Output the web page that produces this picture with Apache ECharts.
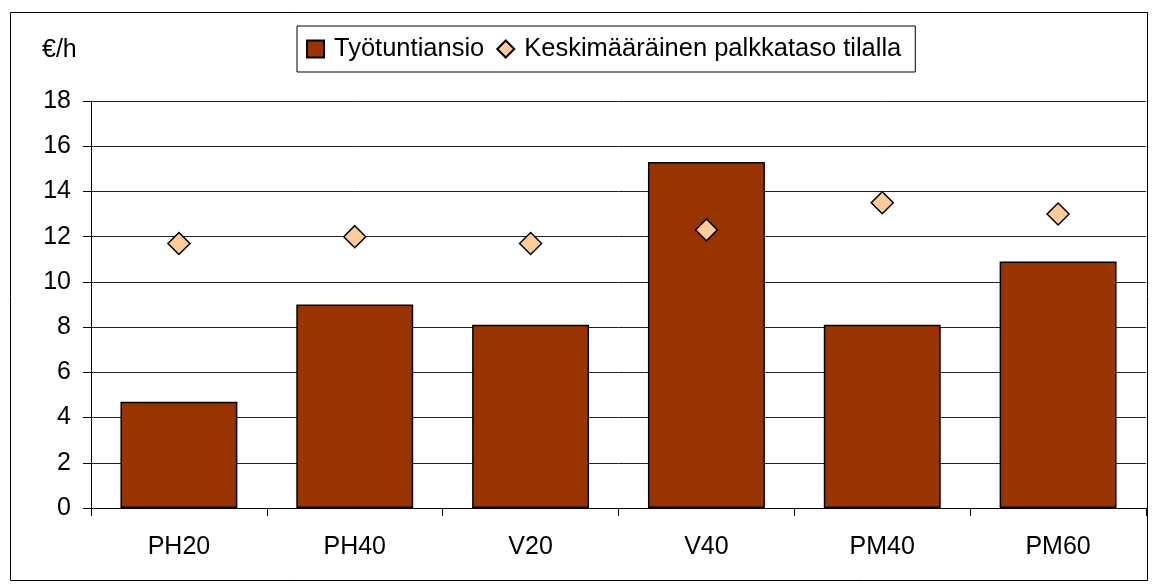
<!DOCTYPE html>
<html>
<head>
<meta charset="utf-8">
<script src="https://cdn.jsdelivr.net/npm/echarts@6/dist/echarts.min.js"></script>
<style>
  html, body { margin: 0; padding: 0; background: #fff; }
  #chart { width: 1152px; height: 587px; }
</style>
</head>
<body>
<div id="chart"></div>
<script>
var categories = ['PH20', 'PH40', 'V20', 'V40', 'PM40', 'PM60'];
var tyotuntiansio = [4.7, 9.0, 8.1, 15.3, 8.1, 10.9];
var palkkataso = [11.7, 12.0, 11.7, 12.3, 13.5, 13.0];
var seriesNames = ['Työtuntiansio', 'Keskimääräinen palkkataso tilalla'];

(function(){
  var c = echarts.init(document.getElementById('chart'));
  var font = '"Liberation Sans", Arial, sans-serif';
  var ink = '#000';

  c.setOption({
    animation: false,
    backgroundColor: '#fff',
    textStyle: { fontFamily: font },
    grid: { left: 91, right: 6, top: 101, bottom: 79 },
    legend: {
      left: 297, top: 26,
      padding: [10, 14, 10, 9],
      borderColor: ink, borderWidth: 1,
      itemGap: 12, itemWidth: 17, itemHeight: 17,
      textStyle: { fontFamily: font, fontSize: 25.5, color: ink, padding: [0, 0, 0, 5] },
      data: [
        { name: seriesNames[0], icon: 'rect' },
        { name: seriesNames[1], icon: 'diamond' }
      ]
    },
    xAxis: {
      type: 'category', data: categories,
      axisLine: { lineStyle: { color: ink, width: 1 } },
      axisTick: { show: true, length: 8, lineStyle: { color: ink } },
      axisLabel: { color: ink, fontSize: 25, margin: 27 }
    },
    yAxis: {
      type: 'value', min: 0, max: 18, interval: 2,
      axisLine: { show: true, lineStyle: { color: ink, width: 1 } },
      axisTick: { show: true, length: 8, lineStyle: { color: ink } },
      axisLabel: { color: ink, fontSize: 25, margin: 20 },
      splitLine: { show: true, lineStyle: { color: '#222', width: 1 } }
    },
    series: [
      {
        name: seriesNames[0], type: 'bar', data: tyotuntiansio,
        barWidth: '66.5%',
        itemStyle: { color: '#993300', borderColor: ink, borderWidth: 1.5 }
      },
      {
        name: seriesNames[1], type: 'scatter', data: palkkataso,
        symbol: 'diamond', symbolSize: 22, z: 5,
        itemStyle: { color: '#FFCC99', borderColor: ink, borderWidth: 1.5, opacity: 1 }
      }
    ],
    graphic: [
      { type: 'rect', left: 8, top: 10, z: -1,
        shape: { width: 1137, height: 568 },
        style: { fill: 'none', stroke: '#000', lineWidth: 1 } },
      { type: 'text', left: 42, top: 38,
        style: { text: '€/h', fill: ink, font: '25px ' + font } }
    ]
  });

  window.addEventListener('resize', function(){ c.resize(); });
})();
</script>
</body>
</html>
